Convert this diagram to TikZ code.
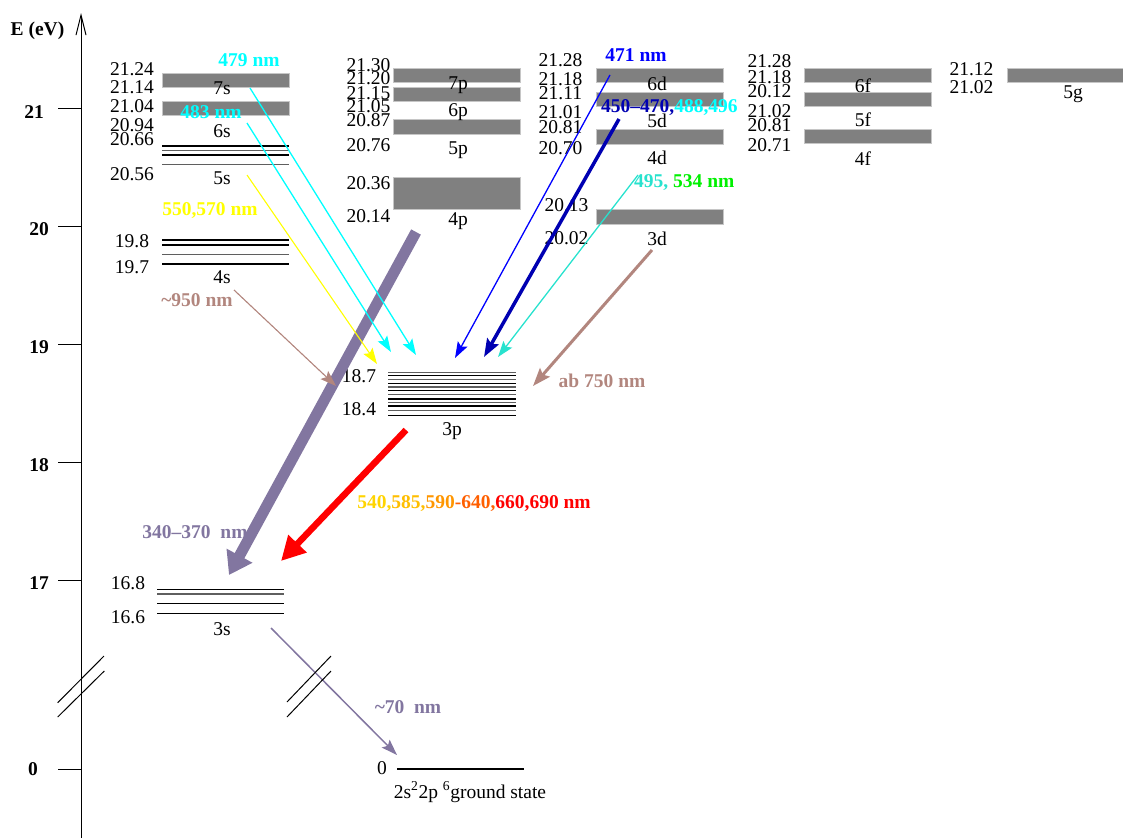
\documentclass[tikz,border=0pt]{standalone}
\usepackage{fontspec}
\setmainfont{Liberation Serif}
\usetikzlibrary{arrows.meta}

\definecolor{bargray}{RGB}{128,128,128}
\definecolor{lvlgray}{RGB}{95,95,95}
\definecolor{lilac}{RGB}{130,118,160}
\definecolor{rosy}{RGB}{178,134,126}
\definecolor{aqua}{RGB}{0,255,255}
\definecolor{lemon}{RGB}{255,255,0}
\definecolor{pureblue}{RGB}{0,0,255}
\definecolor{purered}{RGB}{255,0,0}
\definecolor{deepblue}{RGB}{0,0,178}
\definecolor{turq}{RGB}{40,226,206}
\definecolor{brightgreen}{RGB}{0,240,0}
\definecolor{goldA}{RGB}{255,212,0}
\definecolor{goldB}{RGB}{255,190,0}
\definecolor{orangeA}{RGB}{255,150,0}
\definecolor{orangeB}{RGB}{255,95,0}

\begin{document}
\begin{tikzpicture}[x=1pt,y=-1pt,
  font=\fontsize{19.5}{22}\selectfont,
  val/.style={inner sep=0pt, anchor=center},
  wl/.style={inner sep=0pt, anchor=center, font=\fontsize{19.5}{22}\selectfont\bfseries},
  bar/.style={fill=bargray, draw=bargray!45, line width=0.8pt},
  lvl/.style={line width=1.3pt, draw=black},
  lvlg/.style={line width=1.3pt, draw=lvlgray},
  thin tr/.style={-{Stealth[length=16pt,width=11pt,inset=3pt]}, line width=1.3pt},
]
\useasboundingbox (0,0) rectangle (1123,838);

% ---------- energy axis ----------
\coordinate (axbot) at (81,838);
\coordinate (axtop) at (81,13);
\draw[line width=1pt, -{Straight Barb[length=20pt,width=10pt]}] (axbot) -- (axtop);
\node[wl] (elabel) at (37.5,31) {E (eV)};
\foreach \yy in {108,226,344,462,580,769}
  \draw[line width=1pt] (58,\yy) -- (81,\yy);
\node[wl] (t21) at (34,112) {21};
\node[wl] (t20) at (39,229) {20};
\node[wl] (t19) at (39,347) {19};
\node[wl] (t18) at (39,465) {18};
\node[wl] (t17) at (39,583) {17};
\node[wl] (t0)  at (33,769) {0};
% axis break
\draw[line width=1pt] (57.7,702.7) -- (104,656);
\draw[line width=1pt] (57.7,717) -- (104.3,671);

% ---------- s column ----------
\fill[bar] (162,73) rectangle (289,87);
\fill[bar] (162,101.5) rectangle (289,115);
\draw[lvl]  (162,146) -- (289,146);
\draw[lvlg] (162,150.7) -- (289,150.7);
\draw[lvl]  (162,155) -- (289,155);
\draw[lvlg] (162,164.7) -- (289,164.7);
\draw[lvl]  (162,240) -- (289,240);
\draw[lvl]  (162,245) -- (289,245);
\draw[lvlg] (162,254.7) -- (289,254.7);
\draw[lvl]  (162,264) -- (289,264);
\node[val] (s1) at (132,69.5) {21.24};
\node[val] (s2) at (132,87) {21.14};
\node[val] (s3) at (132,106.5) {21.04};
\node[val] (s4) at (132,125.5) {20.94};
\node[val] (s5) at (132,139.5) {20.66};
\node[val] (s6) at (132,174.5) {20.56};
\node[val] (s7) at (132,241) {19.8};
\node[val] (s8) at (132,267.5) {19.7};
\node[val] (n7s) at (222,88) {7s};
\node[val] (n6s) at (222,131) {6s};
\node[val] (n5s) at (222,178) {5s};
\node[val] (n4s) at (222,277) {4s};

% ---------- p column ----------
\fill[bar] (393,68) rectangle (520,82);
\fill[bar] (393,87) rectangle (520,101);
\fill[bar] (393,119.5) rectangle (520,134.5);
\fill[bar] (393,177) rectangle (520,209.5);
\node[val] (p1) at (368.5,65) {21.30};
\node[val] (p2) at (368.5,77.7) {21.20};
\node[val] (p3) at (368.5,92.7) {21.15};
\node[val] (p4) at (368.5,105.7) {21.05};
\node[val] (p5) at (368.5,120) {20.87};
\node[val] (p6) at (368.5,145) {20.76};
\node[val] (p7) at (368.5,183.3) {20.36};
\node[val] (p8) at (368.5,215.7) {20.14};
\node[val] (n7p) at (458,85) {7p};
\node[val] (n6p) at (458,111.7) {6p};
\node[val] (n5p) at (458,150) {5p};
\node[val] (n4p) at (458,221) {4p};

% ---------- d column ----------
\fill[bar] (596,68) rectangle (723,82);
\fill[bar] (596,92) rectangle (723,106);
\fill[bar] (596,129) rectangle (723,144);
\fill[bar] (596,209) rectangle (723,224);
\node[val] (d1) at (560.5,60) {21.28};
\node[val] (d2) at (560.5,79.3) {21.18};
\node[val] (d3) at (560.5,92.7) {21.11};
\node[val] (d4) at (560.5,111.7) {21.01};
\node[val] (d5) at (560.5,126.7) {20.81};
\node[val] (d6) at (560.5,148.3) {20.70};
\node[val] (d7) at (566.5,205) {20.13};
\node[val] (d8) at (566.5,238.3) {20.02};
\node[val] (n6d) at (657,84) {6d};
\node[val] (n5d) at (657,121) {5d};
\node[val] (n4d) at (657,158.3) {4d};
\node[val] (n3d) at (657,238.5) {3d};

% ---------- f column ----------
\fill[bar] (804,68) rectangle (931,82);
\fill[bar] (804,92) rectangle (931,106);
\fill[bar] (804,129) rectangle (931,143);
\node[val] (f1) at (769.5,60.7) {21.28};
\node[val] (f2) at (769.5,77.3) {21.18};
\node[val] (f3) at (769.5,90.7) {20.12};
\node[val] (f4) at (769.5,110.7) {21.02};
\node[val] (f5) at (769.5,125) {20.81};
\node[val] (f6) at (769.5,145) {20.71};
\node[val] (n6f) at (863,86) {6f};
\node[val] (n5f) at (863,120) {5f};
\node[val] (n4f) at (863,158.3) {4f};

% ---------- g column ----------
\fill[bar] (1007,68) rectangle (1123,82);
\node[val] (g1) at (971.5,69.3) {21.12};
\node[val] (g2) at (971.5,87.3) {21.02};
\node[val] (n5g) at (1073,94) {5g};

% ---------- 3p stack ----------
\foreach \yy/\st in {372.3/lvlg,375.3/lvl,379.3/lvlg,383.3/lvl,387/lvlg,390.7/lvl,394.7/lvlg,399/lvl,402.7/lvlg,406/lvl,410.7/lvlg,415.3/lvl}
  \draw[\st] (388,\yy) -- (516,\yy);
\node[val] (q1) at (359,376) {18.7};
\node[val] (q2) at (359,409) {18.4};
\node[val] (n3p) at (452,431) {3p};

% ---------- 3s stack ----------
\draw[lvl]  (157,589.3) -- (284,589.3);
\draw[lvlg] (157,594) -- (284,594);
\draw[lvl]  (157,603.7) -- (284,603.7);
\draw[lvl]  (157,613.3) -- (284,613.3);
\node[val] (r1) at (128,583.5) {16.8};
\node[val] (r2) at (128,617) {16.6};
\node[val] (n3s) at (222,629) {3s};

% ---------- ground state ----------
\draw[line width=1.2pt] (397,769) -- (524,769);
\node[val] (z0) at (382,768) {0};
\node[val] (gs) at (470,792) {2s\textsuperscript{2}2p \textsuperscript{6}ground state};

% ---------- wavelength labels ----------
\node[wl, text=aqua] (w479) at (249,60) {479 nm};
\node[wl, text=aqua] (w483) at (211,112) {483 nm};
\node[wl, text=lemon] (w550) at (210,211) {550,570 nm};
\node[wl, text=rosy] (w950) at (197,300) {\textasciitilde950 nm};
\node[wl, text=lilac] (w340) at (195,532) {340--370\ \ nm};
\node[wl] (w540) at (474,504) {\textcolor{goldA}{540,}\textcolor{goldB}{585,}\textcolor{orangeA}{590}\textcolor{orangeB}{-640,}\textcolor{purered}{ 660,690 nm}};
\node[wl, text=pureblue] (w471) at (636,55) {471 nm};
\node[wl, anchor=west] (w450) at (601,107.3) {\textcolor{deepblue}{450--470,}\textcolor{aqua}{488,496}};
\node[wl, anchor=west] (w495) at (634,182.7) {\textcolor{turq}{495,}\ \textcolor{brightgreen}{534 nm}};
\node[wl, text=rosy] (w750) at (602,381) {ab 750 nm};
\node[wl, text=lilac] (w70) at (408,707) {\textasciitilde70\ \ nm};

% ---------- transitions ----------
\coordinate (a4p) at (416,232);  \coordinate (b3s) at (229,575);
\draw[lilac, line width=11pt, -{Triangle[length=22pt,width=28pt]}] (a4p) -- (b3s);
\coordinate (a3p) at (406,430);  \coordinate (c3s) at (281,561);
\draw[purered, line width=6.5pt, -{Triangle[length=24pt,width=24pt]}] (a3p) -- (c3s);

\coordinate (a7s) at (250,88);   \coordinate (e7s) at (416,355);
\draw[thin tr, aqua] (a7s) -- (e7s);
\coordinate (a6s) at (247,123);  \coordinate (e6s) at (391,352);
\draw[thin tr, aqua] (a6s) -- (e6s);
\coordinate (a5s) at (247,175);  \coordinate (e5s) at (377,364);
\draw[thin tr, lemon, line width=1.1pt] (a5s) -- (e5s);
\coordinate (a4s) at (234,290);  \coordinate (e4s) at (336,386);
\draw[thin tr, rosy, line width=1.1pt] (a4s) -- (e4s);

\coordinate (a6d) at (610,75);   \coordinate (e6d) at (455,358);
\draw[thin tr, pureblue] (a6d) -- (e6d);
\coordinate (a5d) at (619,119);  \coordinate (e5d) at (484,357);
\draw[deepblue, line width=3.5pt, -{Stealth[length=18pt,width=13pt,inset=3pt]}] (a5d) -- (e5d);
\coordinate (a4d) at (638,175);  \coordinate (e4d) at (498,357);
\draw[thin tr, turq] (a4d) -- (e4d);
\coordinate (a3d) at (652,250);  \coordinate (e3d) at (533,386);
\draw[rosy, line width=3pt, -{Stealth[length=18pt,width=13pt,inset=3pt]}] (a3d) -- (e3d);

\coordinate (a3s) at (271,628);  \coordinate (egs) at (397,755);
\draw[thin tr, lilac, line width=1.5pt] (a3s) -- (egs);
% break marks on the ground-state transition
\draw[line width=1pt] (287,702) -- (331,656);
\draw[line width=1pt] (287,717) -- (331,671);
\end{tikzpicture}
\end{document}
